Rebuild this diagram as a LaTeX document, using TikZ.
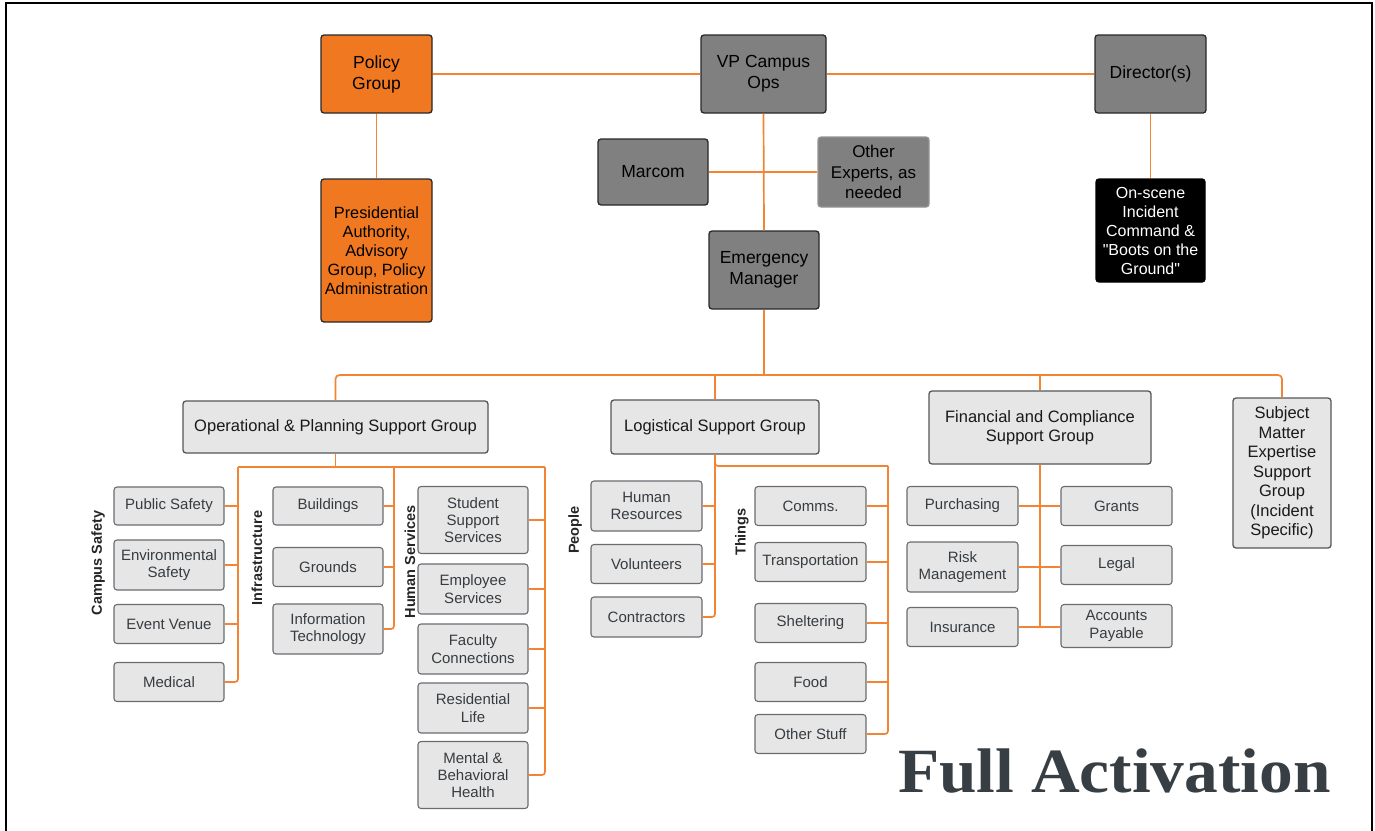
\documentclass[tikz,border=0pt]{standalone}
\usepackage{fontspec}
\setmainfont{Liberation Sans}[Ligatures=TeXOff]
\newfontfamily\titlefont[FakeStretch=1.07]{Liberation Serif}
\definecolor{orfill}{RGB}{240,120,32}
\definecolor{conncol}{RGB}{243,132,52}
\definecolor{dgrey}{RGB}{128,128,128}
\definecolor{edge}{RGB}{40,40,40}
\definecolor{lgrey}{RGB}{230,230,230}
\definecolor{ledge}{RGB}{105,108,112}
\definecolor{ltext}{RGB}{55,60,65}
\definecolor{titcol}{RGB}{55,63,68}
\tikzset{
  x=1pt, y=-1pt,
  box/.style={rounded corners=3pt, line width=1.3pt, align=center, inner sep=0pt},
  topbox/.style={box, fill=dgrey, draw=edge, text=black, font=\fontsize{17.5}{21}\selectfont},
  orbox/.style={box, fill=orfill, draw=edge, text=black},
  lbox/.style={box, fill=lgrey, draw=ledge, text=ltext, line width=1.1pt, font=\fontsize{15}{17.3}\selectfont},
  gbox/.style={box, fill=lgrey, draw=ledge!80!black, text=black!90, line width=1.3pt, font=\fontsize{16.5}{19.5}\selectfont},
  conn/.style={draw=conncol, line width=1.7pt},
  side/.style={rotate=90, font=\bfseries\fontsize{14.5}{17}\selectfont, text=black!85, inner sep=0pt}
}
\begin{document}
\begin{tikzpicture}
\useasboundingbox (0,0) rectangle (1375,830);
\draw[line width=2pt] (6,831) -- (6,3) -- (1372,3) -- (1372,831);

% top level
\node[orbox, minimum width=111pt, minimum height=78pt, font=\fontsize{17.5}{21}\selectfont] (pol) at (376.5,74) {Policy\\Group};
\node[orbox, minimum width=111pt, minimum height=143pt, font=\fontsize{16.3}{19}\selectfont] (pres) at (376.5,250.5) {Presidential\\Authority,\\Advisory\\Group, Policy\\Administration};
\node[topbox, minimum width=125pt, minimum height=78pt] (vp) at (763.5,74) {VP Campus\\Ops};
\node[topbox, minimum width=111pt, minimum height=78pt] (dir) at (1150.5,74) {Director(s)};
\node[topbox, minimum width=110pt, minimum height=66pt] (mar) at (653,172) {Marcom};
\node[topbox, draw=dgrey!85!white, minimum width=111pt, minimum height=70pt, font=\fontsize{17}{20.5}\selectfont] (oth) at (873.5,172) {Other\\Experts, as\\needed};
\node[topbox, minimum width=110pt, minimum height=78pt] (em) at (764,270) {Emergency\\Manager};
\node[box, fill=black, draw=black, text=white, minimum width=109pt, minimum height=103pt, font=\fontsize{16}{19}\selectfont] (osc) at (1150.5,230.5) {On-scene\\Incident\\Command \&\\"Boots on the\\Ground"};

\draw[conn] (pol.east) -- (vp.west);
\draw[conn] (vp.east) -- (dir.west);
\draw[conn] (pol.south) -- (pres.north);
\draw[conn] (dir.south) -- (osc.north);
\draw[conn] (vp.south) -- (em.north);
\draw[conn] (mar.east) -- (oth.west);

% groups
\node[gbox, minimum width=305pt, minimum height=52pt] (ops) at (335.5,427) {Operational \& Planning Support Group};
\node[gbox, minimum width=208pt, minimum height=54pt] (log) at (715,427) {Logistical Support Group};
\node[gbox, minimum width=222pt, minimum height=73pt] (fin) at (1040,427.5) {Financial and Compliance\\Support Group};
\node[gbox, minimum width=98pt, minimum height=150pt] (sme) at (1282,473) {Subject\\Matter\\Expertise\\Support\\Group\\(Incident\\Specific)};

\coordinate (tb) at (764,375);
\draw[conn, rounded corners=4pt] (ops.north) |- (tb) -| (sme.north);
\draw[conn] (em.south) -- (tb);
\draw[conn] (log.north) -- (log.north |- tb);
\draw[conn] (fin.north) -- (fin.north |- tb);

% campus safety
\node[lbox, minimum width=110pt, minimum height=38pt] (ps) at (169,506) {Public Safety};
\node[lbox, minimum width=110pt, minimum height=50pt] (es) at (169,565) {Environmental\\Safety};
\node[lbox, minimum width=110pt, minimum height=39pt] (ev) at (169,624) {Event Venue};
\node[lbox, minimum width=110pt, minimum height=39pt] (med) at (169,682) {Medical};
\node[side] (lcs) at (98,563) {Campus Safety};
% infrastructure
\node[lbox, minimum width=110pt, minimum height=38pt] (bld) at (328,506) {Buildings};
\node[lbox, minimum width=110pt, minimum height=39pt] (grd) at (328,567) {Grounds};
\node[lbox, minimum width=110pt, minimum height=50pt] (it) at (328,629) {Information\\Technology};
\node[side] (linf) at (257,558) {Infrastructure};
% human services
\node[lbox, minimum width=110pt, minimum height=67pt] (sss) at (473,520) {Student\\Support\\Services};
\node[lbox, minimum width=110pt, minimum height=50pt] (emp) at (473,589) {Employee\\Services};
\node[lbox, minimum width=110pt, minimum height=50pt] (fac) at (473,649) {Faculty\\Connections};
\node[lbox, minimum width=110pt, minimum height=50pt] (res) at (473,708) {Residential\\Life};
\node[lbox, minimum width=110pt, minimum height=67pt] (mbh) at (473,775) {Mental \&\\Behavioral\\Health};
\node[side] (lhs) at (410,562) {Human Services};

\coordinate (csT) at (238,467);
\coordinate (inT) at (394,467);
\coordinate (hsT) at (545,467);
\draw[conn] (ops.south) -- (ops.south |- csT);
\draw[conn] (csT) -- (hsT);
\draw[conn] (ps.east) -| (csT);
\draw[conn] (es.east) -| (csT);
\draw[conn] (ev.east) -| (csT);
\draw[conn, rounded corners=3pt] (med.east) -| (csT);
\draw[conn] (bld.east) -| (inT);
\draw[conn] (grd.east) -| (inT);
\draw[conn, rounded corners=3pt] (it.east) -| (inT);
\draw[conn] (sss.east) -| (hsT);
\draw[conn] (emp.east) -| (hsT);
\draw[conn] (fac.east) -| (hsT);
\draw[conn] (res.east) -| (hsT);
\draw[conn, rounded corners=3pt] (mbh.east) -| (hsT);

% people
\node[lbox, minimum width=111pt, minimum height=50pt] (hr) at (646.5,506) {Human\\Resources};
\node[lbox, minimum width=111pt, minimum height=39pt] (vol) at (646.5,564) {Volunteers};
\node[lbox, minimum width=111pt, minimum height=40pt] (con) at (646.5,617) {Contractors};
\node[side] (lpe) at (575,530) {People};
% things
\node[lbox, minimum width=111pt, minimum height=39pt] (com) at (810.5,506) {Comms.};
\node[lbox, minimum width=111pt, minimum height=39pt] (tra) at (810.5,562) {Transportation};
\node[lbox, minimum width=111pt, minimum height=39pt] (she) at (810.5,623) {Sheltering};
\node[lbox, minimum width=111pt, minimum height=39pt] (food) at (810.5,682) {Food};
\node[lbox, minimum width=111pt, minimum height=39pt] (ost) at (810.5,734) {Other Stuff};
\node[side] (lth) at (742,532) {Things};

\coordinate (thT) at (888,466);
\draw[conn] (hr.east) -| (log.south);
\draw[conn] (vol.east) -| (log.south);
\draw[conn, rounded corners=3pt] (con.east) -| (log.south);
\draw[conn, rounded corners=3pt] (log.south) |- (thT);
\draw[conn] (com.east) -| (thT);
\draw[conn] (tra.east) -| (thT);
\draw[conn] (she.east) -| (thT);
\draw[conn] (food.east) -| (thT);
\draw[conn, rounded corners=3pt] (ost.east) -| (thT);

% financial
\node[lbox, minimum width=111pt, minimum height=39pt] (pur) at (962.5,506) {Purchasing};
\node[lbox, minimum width=111pt, minimum height=50pt] (risk) at (962.5,567) {Risk\\Management};
\node[lbox, minimum width=111pt, minimum height=39pt] (ins) at (962.5,627) {Insurance};
\node[lbox, minimum width=111pt, minimum height=39pt] (gra) at (1116.5,506) {Grants};
\node[lbox, minimum width=111pt, minimum height=39pt] (leg) at (1116.5,565) {Legal};
\node[lbox, minimum width=111pt, minimum height=43pt] (ap) at (1116.5,626) {Accounts\\Payable};
\draw[conn] (fin.south) -- (fin.south |- ins.east);
\draw[conn] (pur.east) -- (gra.west);
\draw[conn] (risk.east) -- (risk.east -| leg.west);
\draw[conn] (ins.east) -- (ins.east -| ap.west);

\node[anchor=base west, inner sep=0pt, text=titcol, font=\titlefont\bfseries\fontsize{63}{70}\selectfont] (title) at (898,792) {Full Activation};
\end{tikzpicture}
\end{document}
